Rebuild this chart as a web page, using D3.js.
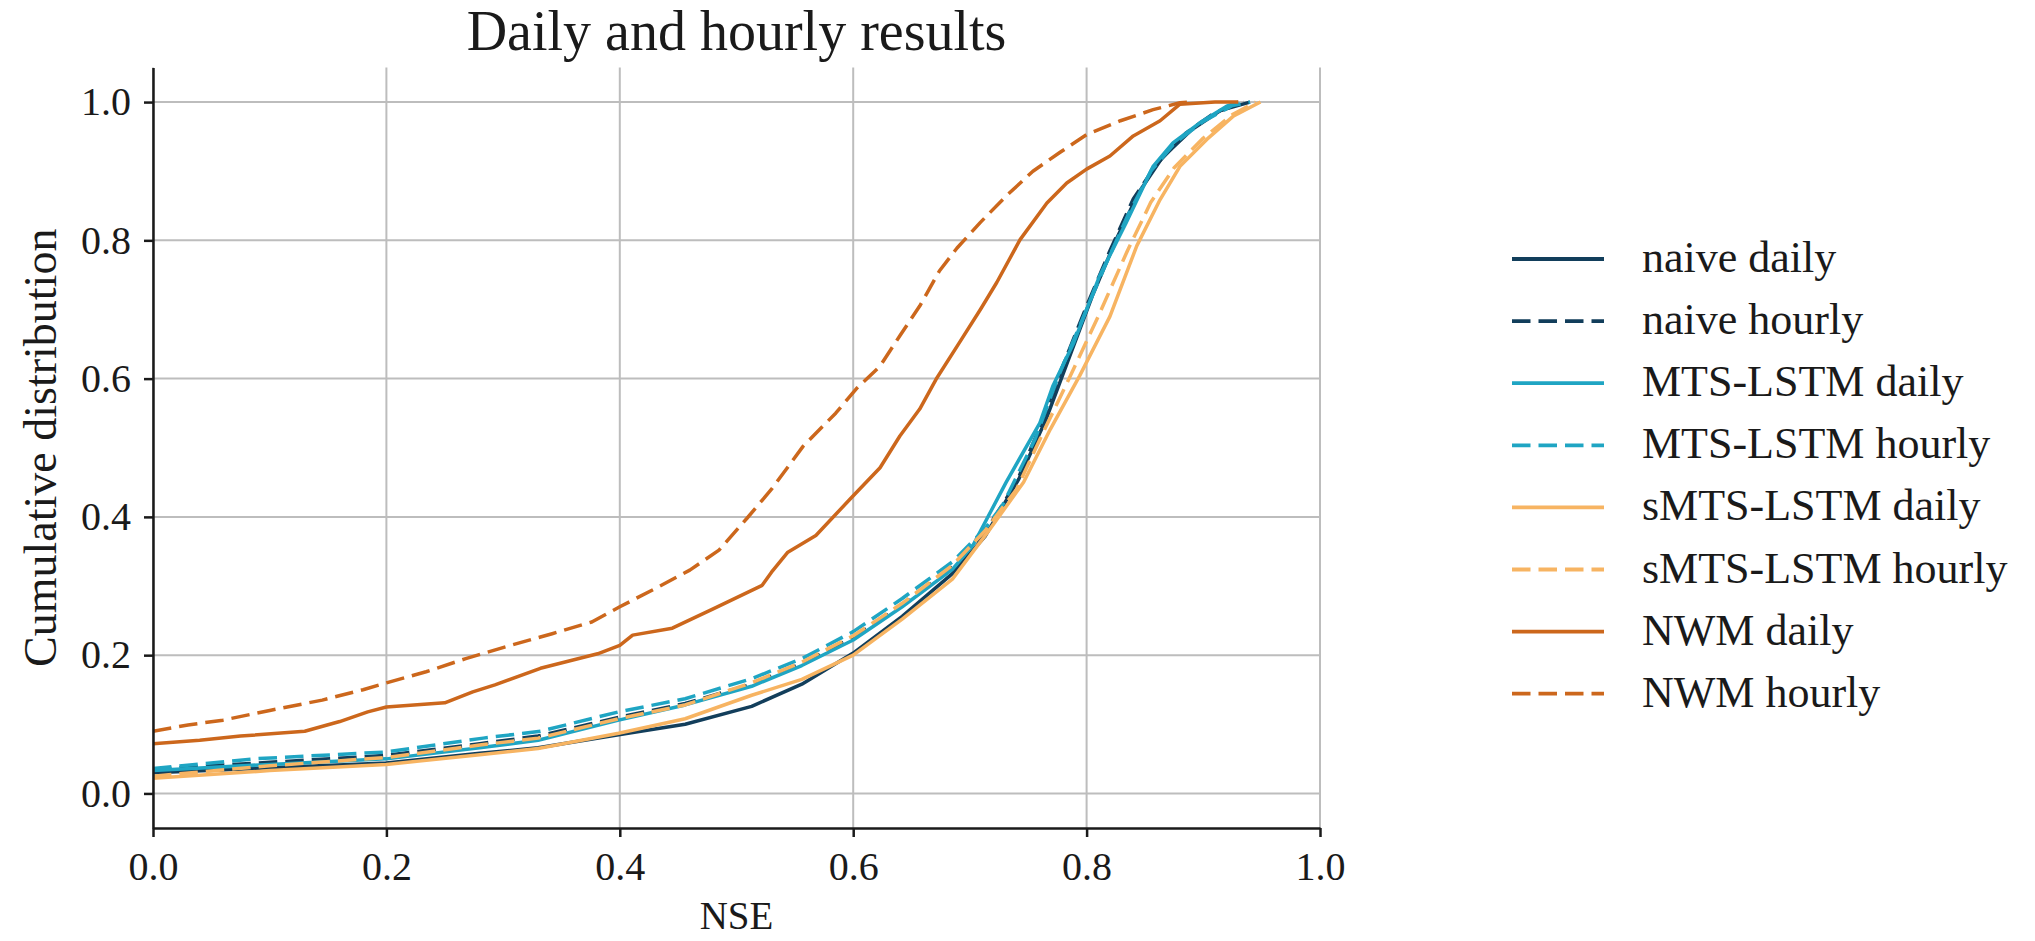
<!DOCTYPE html>
<html>
<head>
  <meta charset="utf-8">
  <title>Daily and hourly results</title>
  <script src="https://d3js.org/d3.v7.min.js"></script>
  <style>
    body { margin: 0; background: #fff; }
    svg text { font-family: "Liberation Serif", "DejaVu Serif", serif; fill: #1a1a1a; }
  </style>
</head>
<body>
<svg width="2035" height="941"></svg>
<script>
  // [NSE, cumulative fraction]
  const naiveDaily = [[0, 0.03], [0.1, 0.037], [0.2, 0.044], [0.28, 0.058], [0.33, 0.066], [0.399, 0.085],
    [0.456, 0.1], [0.513, 0.126], [0.556, 0.158], [0.6, 0.203], [0.642, 0.256], [0.685, 0.318], [0.713, 0.372],
    [0.742, 0.455], [0.765, 0.54], [0.785, 0.63], [0.805, 0.72], [0.825, 0.8], [0.845, 0.87], [0.865, 0.92],
    [0.89, 0.96], [0.915, 0.988], [0.94, 1.0]];
  const naiveHourly = [[0, 0.035], [0.1, 0.045], [0.2, 0.055], [0.28, 0.072], [0.33, 0.083], [0.399, 0.11],
    [0.456, 0.13], [0.513, 0.158], [0.556, 0.188], [0.6, 0.226], [0.642, 0.272], [0.685, 0.328], [0.713, 0.378],
    [0.74, 0.45], [0.76, 0.53], [0.78, 0.62], [0.8, 0.705], [0.82, 0.785], [0.84, 0.86], [0.86, 0.91],
    [0.885, 0.955], [0.91, 0.985], [0.935, 1.0]];
  const mtsDaily = [[0, 0.033], [0.1, 0.042], [0.2, 0.05], [0.28, 0.066], [0.33, 0.077], [0.399, 0.106],
    [0.456, 0.128], [0.513, 0.155], [0.556, 0.185], [0.6, 0.222], [0.642, 0.27], [0.685, 0.324], [0.703, 0.36],
    [0.731, 0.45], [0.76, 0.536], [0.771, 0.589], [0.789, 0.652], [0.811, 0.748], [0.834, 0.826], [0.857, 0.907],
    [0.874, 0.941], [0.897, 0.97], [0.92, 0.994], [0.93, 1.0]];
  const mtsHourly = [[0, 0.036], [0.086, 0.05], [0.2, 0.06], [0.283, 0.08], [0.332, 0.09], [0.399, 0.118],
    [0.456, 0.137], [0.513, 0.166], [0.556, 0.195], [0.6, 0.234], [0.642, 0.282], [0.685, 0.335], [0.713, 0.383],
    [0.728, 0.417], [0.756, 0.513], [0.775, 0.6], [0.795, 0.68], [0.815, 0.76], [0.835, 0.835], [0.855, 0.9],
    [0.875, 0.94], [0.9, 0.972], [0.925, 0.995], [0.94, 1.0]];
  const smtsDaily = [[0, 0.022], [0.1, 0.033], [0.2, 0.042], [0.28, 0.056], [0.33, 0.065], [0.399, 0.087],
    [0.456, 0.108], [0.513, 0.142], [0.556, 0.165], [0.6, 0.2], [0.642, 0.252], [0.685, 0.31], [0.717, 0.382],
    [0.746, 0.45], [0.769, 0.527], [0.794, 0.604], [0.82, 0.69], [0.843, 0.792], [0.863, 0.859], [0.88, 0.907],
    [0.903, 0.946], [0.926, 0.98], [0.949, 1.0]];
  const smtsHourly = [[0, 0.025], [0.1, 0.04], [0.2, 0.052], [0.28, 0.07], [0.33, 0.08], [0.399, 0.108],
    [0.456, 0.128], [0.513, 0.16], [0.556, 0.19], [0.6, 0.228], [0.642, 0.275], [0.685, 0.33], [0.713, 0.38],
    [0.74, 0.44], [0.765, 0.53], [0.785, 0.6], [0.81, 0.69], [0.835, 0.785], [0.855, 0.855], [0.875, 0.905],
    [0.9, 0.948], [0.925, 0.982], [0.945, 1.0]];
  const nwmDaily = [[0, 0.072], [0.04, 0.077], [0.075, 0.083], [0.13, 0.09], [0.16, 0.104], [0.184, 0.118],
    [0.2, 0.125], [0.25, 0.131], [0.274, 0.147], [0.293, 0.157], [0.332, 0.181], [0.381, 0.202], [0.4, 0.214],
    [0.411, 0.229], [0.445, 0.239], [0.48, 0.267], [0.522, 0.301], [0.53, 0.32], [0.544, 0.349], [0.568, 0.373],
    [0.598, 0.427], [0.623, 0.471], [0.64, 0.517], [0.657, 0.556], [0.671, 0.599], [0.691, 0.652], [0.709, 0.7],
    [0.723, 0.739], [0.743, 0.801], [0.766, 0.854], [0.783, 0.883], [0.8, 0.903], [0.82, 0.922], [0.84, 0.951],
    [0.863, 0.973], [0.88, 0.997], [0.91, 1.0], [0.93, 1.0]];
  const nwmHourly = [[0, 0.09], [0.03, 0.099], [0.06, 0.106], [0.1, 0.12], [0.145, 0.135], [0.18, 0.15],
    [0.2, 0.16], [0.234, 0.176], [0.268, 0.195], [0.302, 0.212], [0.342, 0.231], [0.376, 0.248], [0.4, 0.27],
    [0.43, 0.296], [0.46, 0.323], [0.485, 0.352], [0.509, 0.398], [0.53, 0.44], [0.557, 0.502], [0.585, 0.55],
    [0.603, 0.586], [0.623, 0.618], [0.64, 0.662], [0.657, 0.705], [0.674, 0.756], [0.689, 0.789], [0.709, 0.826],
    [0.731, 0.864], [0.754, 0.9], [0.777, 0.927], [0.8, 0.953], [0.829, 0.973], [0.857, 0.989], [0.88, 0.999],
    [0.89, 1.0]];

  const seriesNames = ["naive daily", "naive hourly", "MTS-LSTM daily", "MTS-LSTM hourly",
    "sMTS-LSTM daily", "sMTS-LSTM hourly", "NWM daily", "NWM hourly"];
  const seriesData = [naiveDaily, naiveHourly, mtsDaily, mtsHourly, smtsDaily, smtsHourly, nwmDaily, nwmHourly];
  const seriesColors = ["#123e5b", "#123e5b", "#1fa5c3", "#1fa5c3", "#f7b462", "#f7b462", "#cc671c", "#cc671c"];
  const seriesDashed = [false, true, false, true, false, true, false, true];

  const xTicks = [0, 0.2, 0.4, 0.6, 0.8, 1.0];
  const yTicks = [0, 0.2, 0.4, 0.6, 0.8, 1.0];

  const svg = d3.select("svg");

  const x = d3.scaleLinear().domain([0, 1]).range([153, 1320]);
  const y = d3.scaleLinear().domain([-0.05, 1.05]).range([828, 67.5]);

  svg.append("clipPath").attr("id", "plot")
    .append("rect")
    .attr("x", x(0)).attr("y", y(1.05))
    .attr("width", x(1) - x(0)).attr("height", y(-0.05) - y(1.05));

  // grid
  const grid = svg.append("g").attr("stroke", "#bdbdbd").attr("stroke-width", 2);
  grid.selectAll(".gx").data(xTicks).enter().append("line")
    .attr("x1", d => x(d)).attr("x2", d => x(d))
    .attr("y1", y(1.05)).attr("y2", y(-0.05));
  grid.selectAll(".gy").data(yTicks).enter().append("line")
    .attr("x1", x(0)).attr("x2", x(1))
    .attr("y1", d => y(d)).attr("y2", d => y(d));

  // curves
  const line = d3.line().x(d => x(d[0])).y(d => y(d[1]));
  svg.append("g").attr("clip-path", "url(#plot)")
    .selectAll("path")
    .data(seriesData)
    .enter().append("path")
    .attr("d", line)
    .attr("fill", "none")
    .attr("stroke", (d, i) => seriesColors[i])
    .attr("stroke-width", 3.5)
    .attr("stroke-linejoin", "round")
    .attr("stroke-dasharray", (d, i) => seriesDashed[i] ? "18.5,8" : null);

  // axes
  const fmt = d3.format(".1f");
  const xAxis = svg.append("g")
    .attr("transform", `translate(0,${y(-0.05)})`)
    .call(d3.axisBottom(x).tickValues(xTicks).tickFormat(fmt).tickSize(9).tickSizeOuter(0).tickPadding(15));
  const yAxis = svg.append("g")
    .attr("transform", `translate(${x(0)},0)`)
    .call(d3.axisLeft(y).tickValues(yTicks).tickFormat(fmt).tickSize(9).tickSizeOuter(0).tickPadding(13));

  [xAxis, yAxis].forEach(a => {
    a.select(".domain").attr("stroke", "#1a1a1a").attr("stroke-width", 2.5);
    a.selectAll(".tick line").attr("stroke", "#1a1a1a").attr("stroke-width", 2.5);
    a.selectAll(".tick text").attr("font-size", 40).attr("fill", "#1a1a1a");
  });

  // labels
  svg.append("text")
    .attr("x", (x(0) + x(1)) / 2).attr("y", 50)
    .attr("text-anchor", "middle").attr("font-size", 56)
    .text("Daily and hourly results");
  svg.append("text")
    .attr("x", (x(0) + x(1)) / 2).attr("y", 929)
    .attr("text-anchor", "middle").attr("font-size", 39)
    .text("NSE");
  svg.append("text")
    .attr("transform", `translate(56,${(y(-0.05) + y(1.05)) / 2}) rotate(-90)`)
    .attr("text-anchor", "middle").attr("font-size", 46)
    .text("Cumulative distribution");

  // legend
  const legend = svg.append("g").attr("transform", "translate(1512,259)");
  const rows = legend.selectAll("g").data(seriesNames).enter().append("g")
    .attr("transform", (d, i) => `translate(0,${i * 62.1})`);
  rows.append("line")
    .attr("x1", 0).attr("x2", 92).attr("y1", 0).attr("y2", 0)
    .attr("stroke", (d, i) => seriesColors[i])
    .attr("stroke-width", 3.8)
    .attr("stroke-dasharray", (d, i) => seriesDashed[i] ? "18.5,8" : null);
  rows.append("text")
    .attr("x", 130).attr("y", 13)
    .attr("font-size", 44)
    .text(d => d);
</script>
</body>
</html>
